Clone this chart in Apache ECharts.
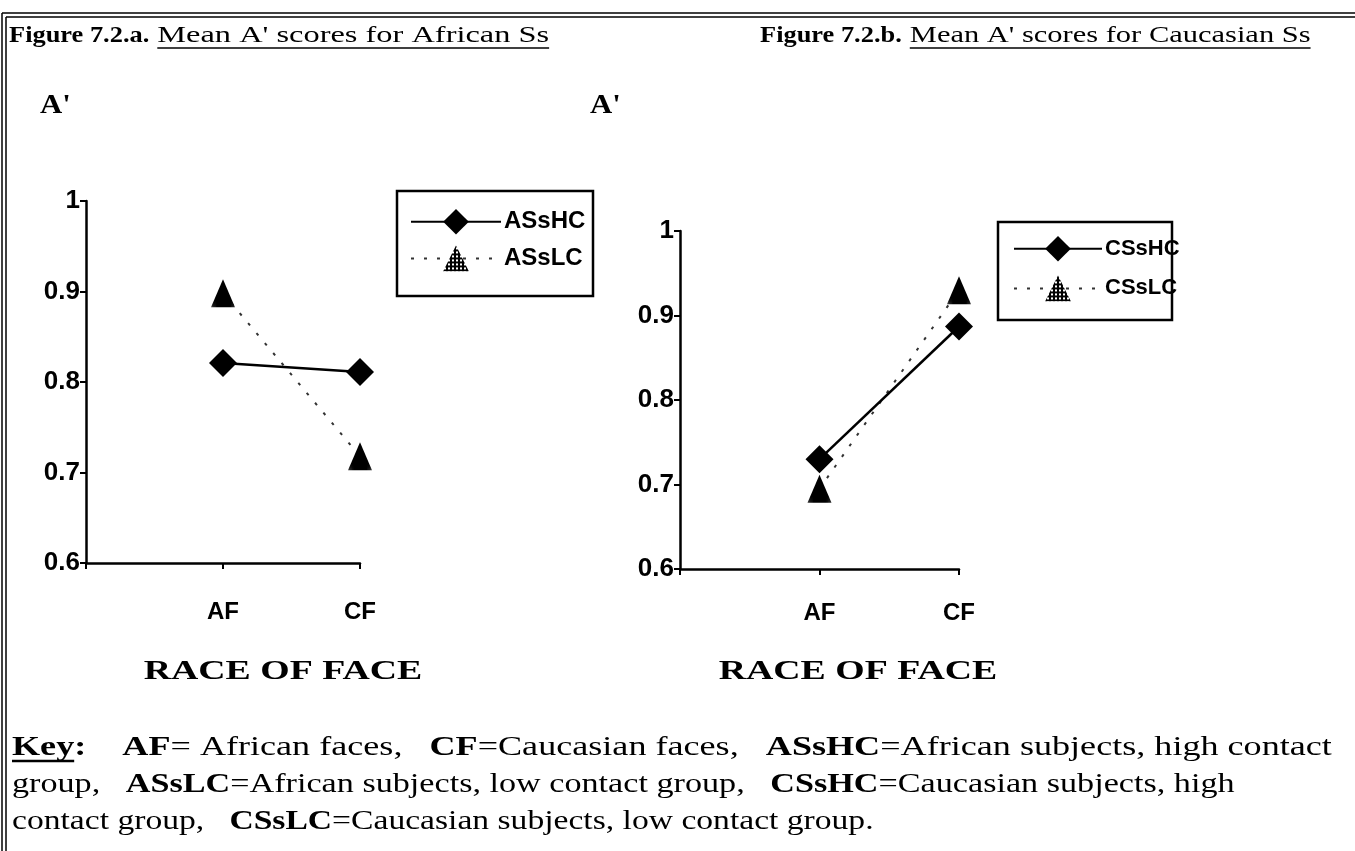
<!DOCTYPE html>
<html><head><meta charset="utf-8">
<script src="https://cdn.jsdelivr.net/npm/echarts@6/dist/echarts.min.js"></script>
<style>html,body{margin:0;padding:0;background:#fff}#c{width:1355px;height:851px}</style>
</head><body><div id="c"></div>
<script>
// ---- data ----
const categories = ['', 'AF', 'CF'];
const yTickLabels = ['0.6', '0.7', '0.8', '0.9', '1'];
const africanHC = [null, 0.821, 0.811];
const africanLC = [null, 0.898, 0.718];
const caucasianHC = [null, 0.730, 0.887];
const caucasianLC = [null, 0.695, 0.930];
const namesA = ['ASsHC', 'ASsLC'];
const namesB = ['CSsHC', 'CSsLC'];
const titleBold = ['Figure 7.2.a.', 'Figure 7.2.b.'];
const titleText = ["Mean A' scores for African Ss", "Mean A' scores for Caucasian Ss"];
const axisTitle = "RACE OF FACE";
const yName = "A'";
const keyLines = [
  "{u|Key}{b|:}    {b|AF}= African faces,   {b|CF}=Caucasian faces,   {b|ASsHC}=African subjects, high contact",
  "group,   {b|ASsLC}=African subjects, low contact group,   {b|CSsHC}=Caucasian subjects, high",
  "contact group,   {b|CSsLC}=Caucasian subjects, low contact group."
];

// ---- helpers ----
const serif = "'Liberation Serif','Times New Roman',serif";
const sans = "'Liberation Sans',Arial,sans-serif";
const mctx = document.createElement('canvas').getContext('2d');
function tw(text, font) { mctx.font = font; return mctx.measureText(text).width; }

const pat = document.createElement('canvas'); pat.width = 4; pat.height = 4;
const pc = pat.getContext('2d');
pc.fillStyle = '#000'; pc.fillRect(0, 0, 4, 4);
pc.fillStyle = '#fff'; pc.fillRect(1, 1, 2, 2);
const stipple = { image: pat, repeat: 'repeat' };

const chart = echarts.init(document.getElementById('c'));

const graphics = [];
function addText(x, y, text, size, weight, family, sx, align) {
  graphics.push({
    type: 'text', x: x, y: y, scaleX: sx || 1,
    style: { text: text, fontSize: size, fontWeight: weight, fontFamily: family, fill: '#000', align: align || 'left', verticalAlign: 'middle' }
  });
}
function addLine(x1, y1, x2, y2, w) {
  graphics.push({ type: 'line', shape: { x1, y1, x2, y2 }, style: { stroke: '#000', lineWidth: w || 1 } });
}
function addBox(x, y, w, h) {
  graphics.push({ type: 'rect', shape: { x, y, width: w, height: h }, style: { fill: null, stroke: '#000', lineWidth: 2.5 } });
}
// border
addLine(2, 13, 2, 851, 1.5); addLine(6, 17, 6, 851, 1.5);
addLine(2, 13, 1355, 13, 1.5); addLine(6, 17, 1355, 17, 1.5);

// titles
const titleX = [9, 760];
const TSB = 1.1, TSR = [1.35, 1.27];
for (let i = 0; i < 2; i++) {
  const bf = 'bold 24px ' + serif, rf = '24px ' + serif;
  const xr = titleX[i] + tw(titleBold[i], bf) * TSB + 8;
  addText(titleX[i], 36, titleBold[i], 24, 'bold', serif, TSB);
  addText(xr, 36, titleText[i], 24, 'normal', serif, TSR[i]);
  addLine(xr, 48, xr + tw(titleText[i], rf) * TSR[i], 48, 1.5);
}
// A' labels
addText(40, 106, yName, 28, 'bold', serif, 1.1);
addText(590, 106, yName, 28, 'bold', serif, 1.1);
// RACE OF FACE
addText(283, 672, axisTitle, 28, 'bold', serif, 1.35, 'center');
addText(858, 672, axisTitle, 28, 'bold', serif, 1.35, 'center');
// legend boxes
addBox(397, 191, 196, 105);
addBox(998, 222, 174, 98);
// key
const keyY = [748, 785, 822];
const keyScale = [1.29, 1.22, 1.2];
for (let i = 0; i < 3; i++) {
  graphics.push({
    type: 'text', x: 12, y: keyY[i], scaleX: keyScale[i],
    style: {
      text: keyLines[i], fontSize: 28, fontFamily: serif, fill: '#000', align: 'left', verticalAlign: 'middle',
      rich: { b: { fontWeight: 'bold', fontSize: 28, fontFamily: serif }, u: { fontWeight: 'bold', fontSize: 28, fontFamily: serif } }
    }
  });
}
addLine(12, 761, 12 + tw('Key', 'bold 28px ' + serif) * keyScale[0], 761, 2.5);

const yLabel = { fontSize: 26, fontWeight: 'bold', fontFamily: sans, color: '#000', margin: 6,
  formatter: v => { const s = (Math.round(v * 10) / 10).toString(); return yTickLabels.includes(s) ? s : ''; } };
const axisLine = { lineStyle: { color: '#000', width: 2.5 } };
const axisTick = { show: true, length: 6, lineStyle: { color: '#000', width: 2 } };

function yAx(idx) {
  return { type: 'value', gridIndex: idx, min: 0.6, max: 1, interval: 0.1,
    axisLine: Object.assign({ show: true }, axisLine), axisTick: axisTick, axisLabel: yLabel, splitLine: { show: false } };
}
function xAx(idx) {
  return { type: 'category', gridIndex: idx, data: categories, boundaryGap: false,
    axisLine: axisLine, axisTick: Object.assign({ interval: 0 }, axisTick),
    axisLabel: { interval: 0, fontSize: 24, fontWeight: 'bold', fontFamily: sans, color: '#000', margin: idx === 0 ? 37 : 32 },
    splitLine: { show: false } };
}
function hc(name, data, gi) {
  return { name, type: 'line', xAxisIndex: gi, yAxisIndex: gi, data, symbol: 'diamond', symbolSize: 28,
    itemStyle: { color: '#000' }, lineStyle: { color: '#000', width: 2.5, type: 'solid' }, z: 4 };
}
function lc(name, data, gi) {
  return { name, type: 'line', xAxisIndex: gi, yAxisIndex: gi, data, symbol: 'triangle', symbolSize: [24, 28],
    itemStyle: { color: stipple }, lineStyle: { color: '#333', width: 2, type: [3, 10] }, z: 3 };
}

chart.setOption({
  animation: false,
  backgroundColor: '#fff',
  grid: [
    { left: 86, top: 201, width: 274, height: 362 },
    { left: 680, top: 231, width: 279, height: 338 }
  ],
  xAxis: [xAx(0), xAx(1)],
  yAxis: [yAx(0), yAx(1)],
  legend: [
    { data: namesA, orient: 'vertical', left: 410, top: 209, padding: 0, itemGap: 11,
      itemWidth: 90, itemHeight: 32, textStyle: { fontSize: 24, fontWeight: 'bold', fontFamily: sans, color: '#000', padding: [0, 0, 0, -2] }, selectedMode: false },
    { data: namesB, orient: 'vertical', left: 1013, top: 236, padding: 0, itemGap: 14,
      itemWidth: 88, itemHeight: 32, textStyle: { fontSize: 22, fontWeight: 'bold', fontFamily: sans, color: '#000', padding: [0, 0, 0, -2] }, selectedMode: false }
  ],
  series: [
    hc(namesA[0], africanHC, 0), lc(namesA[1], africanLC, 0),
    hc(namesB[0], caucasianHC, 1), lc(namesB[1], caucasianLC, 1)
  ],
  graphic: graphics
});
</script></body></html>
